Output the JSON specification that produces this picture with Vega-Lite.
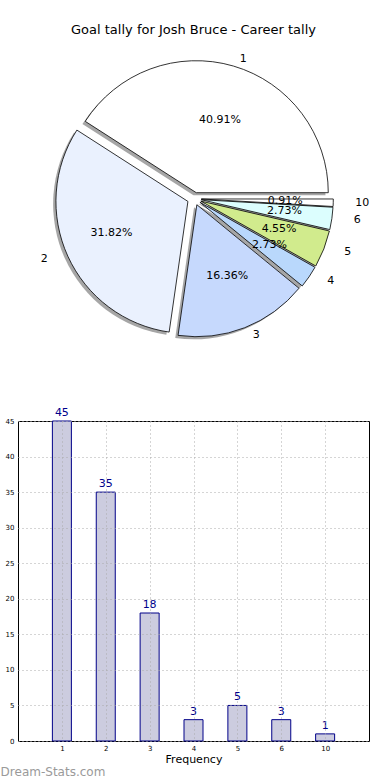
{
  "$schema": "https://vega.github.io/schema/vega-lite/v6.json",
  "padding": {"top": 24, "left": 0, "right": 0, "bottom": 0},
  "bounds": "flush",
  "spacing": 21,
  "config": {"font": "DejaVu Sans", "view": {"stroke": "black", "strokeWidth": 1}},
  "title": {"text": "Dream-Stats.com", "orient": "bottom", "anchor": "start", "fontSize": 12, "fontWeight": "normal", "color": "#9a9a9a", "offset": 2, "dx": -4},
  "data": {"values": [
    {"label": "1", "goals": 45, "pct": "40.91%"},
    {"label": "2", "goals": 35, "pct": "31.82%"},
    {"label": "3", "goals": 18, "pct": "16.36%"},
    {"label": "4", "goals": 3, "pct": "2.73%"},
    {"label": "5", "goals": 5, "pct": "4.55%"},
    {"label": "6", "goals": 3, "pct": "2.73%"},
    {"label": "10", "goals": 1, "pct": "0.91%"}
  ]},
  "vconcat": [
    {
      "width": 351,
      "height": 355,
      "view": {"stroke": null},
      "title": {"text": "Goal tally for Josh Bruce - Career tally", "fontSize": 13, "fontWeight": "normal", "anchor": "middle", "offset": 8, "color": "black"},
      "transform": [
        {"calculate": "toNumber(datum.label)", "as": "k"},
        {"window": [{"op": "sum", "field": "goals", "as": "cum1"}], "sort": [{"field": "k"}], "frame": [null, 0]},
        {"joinaggregate": [{"op": "sum", "field": "goals", "as": "total"}]},
        {"calculate": "datum.cum1 - datum.goals", "as": "cum0"},
        {"calculate": "PI * (datum.cum0 + datum.cum1) / datum.total", "as": "mid"},
        {"calculate": "0.05 * cos(datum.mid)", "as": "ex"},
        {"calculate": "0.05 * sin(datum.mid)", "as": "ey"},
        {"calculate": "datum.ex - 0.02", "as": "sx"},
        {"calculate": "datum.ey - 0.02", "as": "sy"},
        {"calculate": "datum.ex + 1.1 * cos(datum.mid)", "as": "lx"},
        {"calculate": "datum.ey + 1.1 * sin(datum.mid)", "as": "ly"},
        {"calculate": "datum.ex + 0.6 * cos(datum.mid)", "as": "px"},
        {"calculate": "datum.ey + 0.6 * sin(datum.mid)", "as": "py"}
      ],
      "layer": [
        {
          "mark": {"type": "arc", "outerRadius": 132, "fill": "#4d4d4d", "opacity": 0.5},
          "encoding": {
            "theta": {"field": "cum0", "type": "quantitative", "stack": null, "scale": {"domain": [0, 110], "range": [1.5707963, -4.712389]}},
            "theta2": {"field": "cum1"},
            "x": {"field": "sx", "type": "quantitative", "scale": {"domain": [-1.2593, 1.2479], "nice": false, "zero": false}, "axis": null},
            "y": {"field": "sy", "type": "quantitative", "scale": {"domain": [-1.5843, 1.211], "nice": false, "zero": false}, "axis": null}
          }
        },
        {
          "mark": {"type": "arc", "outerRadius": 132, "stroke": "black", "strokeWidth": 0.8},
          "encoding": {
            "theta": {"field": "cum0", "type": "quantitative", "stack": null},
            "theta2": {"field": "cum1"},
            "x": {"field": "ex", "type": "quantitative"},
            "y": {"field": "ey", "type": "quantitative"},
            "color": {"field": "label", "type": "nominal", "legend": null, "scale": {"domain": ["1", "2", "3", "4", "5", "6", "10"], "range": ["#ffffff", "#eaf1fe", "#c6d9fd", "#b9d8fc", "#d1eb8d", "#dcfefe", "#ffffff"]}}
          }
        },
        {
          "mark": {"type": "text", "fontSize": 11, "align": "center", "baseline": "middle", "color": "black"},
          "encoding": {
            "x": {"field": "px", "type": "quantitative"},
            "y": {"field": "py", "type": "quantitative"},
            "text": {"field": "pct"}
          }
        },
        {
          "transform": [{"filter": "datum.lx > 0"}],
          "mark": {"type": "text", "fontSize": 11, "align": "left", "baseline": "middle", "color": "black"},
          "encoding": {
            "x": {"field": "lx", "type": "quantitative"},
            "y": {"field": "ly", "type": "quantitative"},
            "text": {"field": "label"}
          }
        },
        {
          "transform": [{"filter": "datum.lx <= 0"}],
          "mark": {"type": "text", "fontSize": 11, "align": "right", "baseline": "middle", "color": "black"},
          "encoding": {
            "x": {"field": "lx", "type": "quantitative"},
            "y": {"field": "ly", "type": "quantitative"},
            "text": {"field": "label"}
          }
        }
      ]
    },
    {
      "width": 351,
      "height": 320,
      "encoding": {
        "x": {"field": "label", "type": "ordinal", "sort": ["1", "2", "3", "4", "5", "6", "10"], "scale": {"type": "point", "padding": 1},
              "axis": {"title": "Frequency", "labelAngle": 0, "labelFontSize": 7, "labelColor": "black", "titleFontSize": 11, "titleFontWeight": "normal", "titleColor": "black", "titlePadding": 2, "labelPadding": 3, "ticks": false, "domain": false, "grid": true, "gridColor": "#aaaaaa", "gridDash": [1, 3], "zindex": 1}},
        "y": {"field": "goals", "type": "quantitative", "scale": {"domain": [0, 45], "nice": false},
              "axis": {"title": null, "values": [0, 5, 10, 15, 20, 25, 30, 35, 40, 45], "labelFontSize": 7, "labelColor": "black", "ticks": false, "domain": false, "grid": true, "gridColor": "#aaaaaa", "gridDash": [1, 3], "labelPadding": 4, "zindex": 1}}
      },
      "layer": [
        {"mark": {"type": "bar", "size": 19, "fill": "#ccccdf", "stroke": "#000088", "strokeWidth": 1}},
        {"mark": {"type": "text", "baseline": "bottom", "dy": -3, "fontSize": 11, "color": "#00008b"}, "encoding": {"text": {"field": "goals"}}}
      ]
    }
  ]
}
